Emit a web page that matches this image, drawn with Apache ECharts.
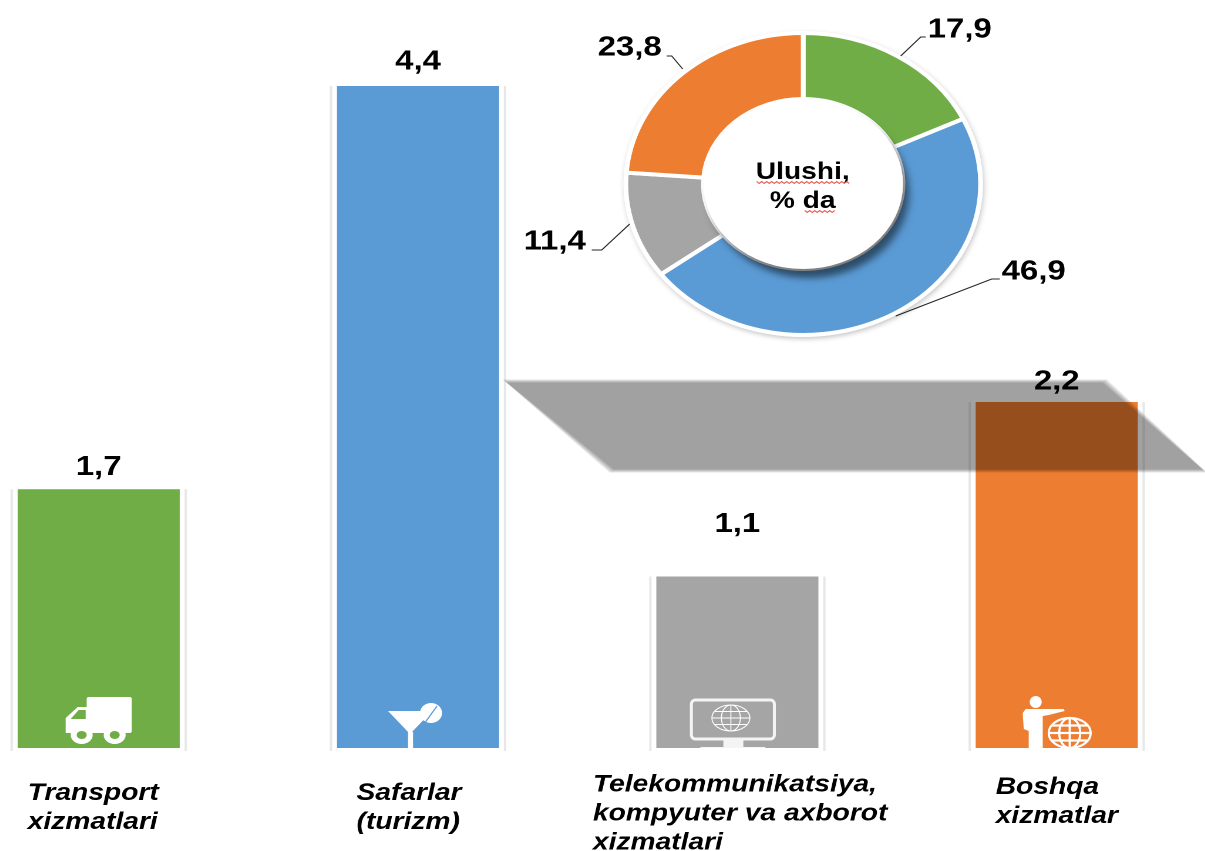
<!DOCTYPE html>
<html><head><meta charset="utf-8">
<style>html,body{margin:0;padding:0;background:#fff;overflow:hidden;width:1205px;height:851px}
#c{position:absolute;left:-60.7px;top:0;width:1088px;height:851px;transform-origin:0 0;transform:scaleX(1.1745)}</style>
<script src="https://cdn.jsdelivr.net/npm/echarts@6/dist/echarts.min.js"></script>
</head><body><div id="c"></div>
<script>
const categories = ['Transport\nxizmatlari','Safarlar\n(turizm)','Telekommunikatsiya,\nkompyuter va axborot\nxizmatlari','Boshqa\nxizmatlar'];
const barValues = [1.72,4.4,1.14,2.3];
const barLabels = ['1,7','4,4','1,1','2,2'];
const barColors = ['#70AD47','#5B9BD5','#A5A5A5','#ED7D31'];
const shareNames = ['Transport','Safarlar','Telekommunikatsiya','Boshqa'];
const shareValues = [17.9,46.9,11.4,23.8];
const shareLabels = ['17,9','46,9','11,4','23,8'];
const centerText = 'Ulushi,\n% da';

const S = 1.1745;
const X = px => (px+60.7)/S;
const labelDist = [8,10,38,6];
const catOffset = [[-71,60],[-61.5,60],[-144.5,66],[-61,54]];
const iconIdx = ['truck','glass','monitor','person'];
const white = '#fff';

function globe(cx,cy,rx,ry,lw){
  const st = {fill:'none',stroke:white,lineWidth:lw};
  return [
    {type:'ellipse',shape:{cx,cy,rx,ry},style:st},
    {type:'ellipse',shape:{cx,cy,rx:rx*0.5,ry},style:st},
    {type:'line',shape:{x1:cx,y1:cy-ry,x2:cx,y2:cy+ry},style:st},
    {type:'line',shape:{x1:cx-rx,y1:cy,x2:cx+rx,y2:cy},style:st},
    {type:'line',shape:{x1:cx-rx*0.88,y1:cy-ry*0.5,x2:cx+rx*0.88,y2:cy-ry*0.5},style:st},
    {type:'line',shape:{x1:cx-rx*0.88,y1:cy+ry*0.5,x2:cx+rx*0.88,y2:cy+ry*0.5},style:st}
  ];
}
const icons = {
  truck(c){return [
    {type:'rect',shape:{x:-12,y:-51,width:45,height:36,r:2},style:{fill:white}},
    {type:'polygon',shape:{points:[[-11,-41],[-21,-41],[-33,-30],[-33,-15],[-11,-15]]},style:{fill:white}},
    {type:'polygon',shape:{points:[[-13,-38],[-20,-38],[-28,-29],[-13,-29]]},style:{fill:c}},
    {type:'ellipse',shape:{cx:-17,cy:-13,rx:11,ry:9},style:{fill:white}},
    {type:'ellipse',shape:{cx:16,cy:-13,rx:11,ry:9},style:{fill:white}},
    {type:'ellipse',shape:{cx:-17,cy:-13,rx:5,ry:4},style:{fill:c}},
    {type:'ellipse',shape:{cx:16,cy:-13,rx:5,ry:4},style:{fill:c}}
  ];},
  glass(c){return [
    {type:'ellipse',shape:{cx:13,cy:-35,rx:11,ry:10},style:{fill:white}},
    {type:'line',shape:{x1:19,y1:-42,x2:6,y2:-24},style:{stroke:c,lineWidth:1.2}},
    {type:'polygon',shape:{points:[[-30,-37],[14,-37],[-7,-15],[-9,-15]]},style:{fill:white}},
    {type:'rect',shape:{x:-10,y:-16,width:5,height:16},style:{fill:white}}
  ];},
  monitor(c){return [
    {type:'rect',shape:{x:-46,y:-48,width:83,height:39,r:4},style:{fill:'none',stroke:'#f4f4f4',lineWidth:3}},
    {type:'rect',shape:{x:-14,y:-8,width:20,height:8},style:{fill:'#f4f4f4'}},
    {type:'rect',shape:{x:-37,y:-1,width:65,height:1},style:{fill:'#f4f4f4'}}
  ].concat(globe(-6.5,-30,19,13,1));},
  person(c){return [
    {type:'ellipse',shape:{cx:-21,cy:-46,rx:6,ry:6},style:{fill:white}},
    {type:'polygon',shape:{points:[[-31,-39],[-14,-39],[7,-39],[8,-37],[-8,-33],[-14,-32],[-14,0],[-28,0],[-28,-17],[-33,-19],[-34,-35]]},style:{fill:white}}
  ].concat(globe(13,-15,21,15,2.2));}
};

function renderDecor(params, api){
  const i = api.value(0), v = api.value(1);
  const base = api.coord([i,0]), top = api.coord([i,v]);
  const c = barColors[i];
  const side = 87/S;
  const ln = x => ({type:'line',shape:{x1:x,y1:top[1],x2:x,y2:base[1]+3},style:{stroke:'#e8e8e8',lineWidth:2}});
  return {type:'group',children:[
    ln(base[0]-side), ln(base[0]+side),
    {type:'group',x:base[0],y:base[1],scaleX:1/S,children:icons[iconIdx[i]](c)},
    {type:'text',x:base[0]+catOffset[i][0]/S,y:base[1]+catOffset[i][1],
      style:{text:categories[i],fill:'#000',font:'italic bold 24px "Liberation Sans"',lineHeight:29,align:'left',verticalAlign:'middle'}}
  ]};
}

const pieLabelPos = [[960,29],[1034,271],[555,241],[630,47]];
const pieLines = [
  [[901,56],[921,37],[926,37]],
  [[896,316],[992,279],[1000,279]],
  [[630,224],[602,250],[592,250]],
  [[683,69],[672,56],[667,56]]
];
function wavy(x1,x2,y){
  const p=[];let up=true;
  for(let x=x1;x<=x2;x+=2.5){p.push([X(x),y+(up?-1:1)]);up=!up;}
  return {type:'polyline',z:12,shape:{points:p},style:{fill:'none',stroke:'#e8534f',lineWidth:1}};
}
function softBand(d){
  return {type:'polygon',z:20,silent:true,shape:{points:[
    [X(505-d*1.4),381-d],[X(1105+d*1.4),381-d],[X(1205+d*1.4),471+d],[X(612-d*1.4),471+d]]},
    style:{fill:'rgba(0,0,0,0.106)'}};
}

const chart = echarts.init(document.getElementById('c'),null,{renderer:'canvas',devicePixelRatio:2});
chart.setOption({
  animation:false,
  backgroundColor:'#fff',
  grid:{left:0,width:1087.6,top:86,bottom:103},
  xAxis:{type:'category',data:categories,show:false},
  yAxis:{type:'value',min:0,max:4.4,show:false},
  series:[
    {type:'bar',barWidth:138,z:2,
     data:barValues.map((v,i)=>({value:v,itemStyle:{color:barColors[i]},label:{distance:labelDist[i]}})),
     label:{show:true,position:'top',color:'#000',fontFamily:'Liberation Sans',fontWeight:'bold',fontSize:28,
       formatter:p=>barLabels[p.dataIndex]}},
    {type:'custom',z:3,renderItem:renderDecor,silent:true,
     data:barValues.map((v,i)=>[i,v])},
    {type:'pie',z:3,center:[X(803.5),184],radius:[85,151],startAngle:90,clockwise:true,
     itemStyle:{borderColor:'#fff',borderWidth:4},
     data:shareValues.map((v,i)=>({name:shareNames[i],value:v,itemStyle:{color:barColors[i]}})),
     label:{show:true,formatter:p=>shareLabels[p.dataIndex],color:'#000',fontFamily:'Liberation Sans',fontWeight:'bold',fontSize:28},
     labelLine:{show:false},
     labelLayout:p=>({x:X(pieLabelPos[p.dataIndex][0]),y:pieLabelPos[p.dataIndex][1]+1,align:'center',verticalAlign:'middle'})}
  ],
  graphic:[
    {type:'circle',z:1,shape:{cx:X(803.5),cy:184,r:153},style:{fill:'#fff',shadowBlur:5,shadowColor:'rgba(0,0,0,0.22)',shadowOffsetX:1,shadowOffsetY:2}},
    {type:'circle',z:10,shape:{cx:X(803.5),cy:184,r:85},style:{fill:'#fff',shadowBlur:7,shadowColor:'rgba(0,0,0,0.5)',shadowOffsetX:5,shadowOffsetY:9}},
    {type:'text',z:11,x:X(803),y:187,style:{text:centerText,fill:'#000',font:'bold 24px "Liberation Sans"',lineHeight:29,align:'center',verticalAlign:'middle'}},
    wavy(757,850,182.5), wavy(805,837,211.5),
    ...pieLines.map(l=>({type:'polyline',z:11,shape:{points:l.map(p=>[X(p[0]),p[1]])},style:{fill:'none',stroke:'#262626',lineWidth:1}})),
    softBand(1.5), softBand(0.5), softBand(-0.5), softBand(-1.5)
  ]
});
</script></body></html>
